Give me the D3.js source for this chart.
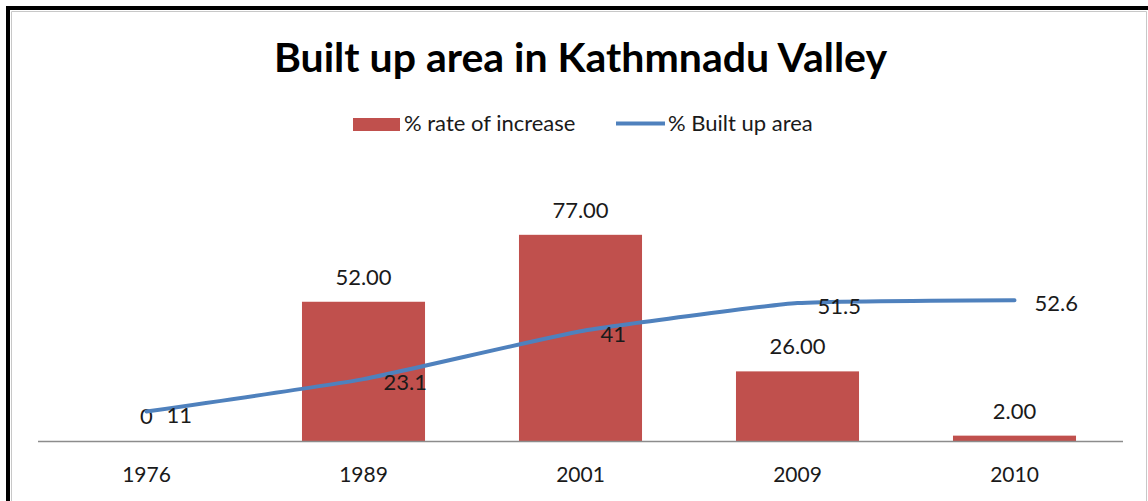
<!DOCTYPE html>
<html>
<head>
<meta charset="utf-8">
<script src="https://cdn.jsdelivr.net/npm/d3@7"></script>
<style>
  body { margin: 0; background: #fff; }
  svg { display: block; font-family: Lato, "Open Sans", sans-serif; }
</style>
</head>
<body>
<svg id="chart"></svg>
<script>
var width = 1148, height = 501;

// data
var years = ['1976', '1989', '2001', '2009', '2010'];
var rateOfIncrease = [0, 52, 77, 26, 2];
var builtUpArea = [11, 23.1, 41, 51.5, 52.6];
var rateLabels = ['0', '52.00', '77.00', '26.00', '2.00'];
var areaLabels = ['11', '23.1', '41', '51.5', '52.6'];
var seriesNames = ['% rate of increase', '% Built up area'];

var barColor = '#c0504d', lineColor = '#4f81bd', textColor = '#1a1a1a';

var svg = d3.select('#chart')
    .attr('width', width)
    .attr('height', height)
    .attr('viewBox', `0 0 ${width} ${height}`);

// frame (black outer line + thin grey inner line)
svg.append('path')
    .attr('d', `M8,${height} V8 H${width}`)
    .attr('fill', 'none')
    .attr('stroke', '#000')
    .attr('stroke-width', 4);
svg.append('path')
    .attr('d', `M11.5,${height} V11.5 H1146.5 V${height}`)
    .attr('fill', 'none')
    .attr('stroke', '#c8c8c8')
    .attr('stroke-width', 1);

var x = d3.scaleBand()
    .domain(years)
    .range([38, 1123])
    .paddingInner(0.433)
    .paddingOuter(0.2165);

var y = d3.scaleLinear()
    .domain([0, 90])
    .range([441, 200]);

// title
svg.append('text')
    .attr('x', 580.5)
    .attr('y', 72)
    .attr('text-anchor', 'middle')
    .attr('font-weight', 'bold')
    .attr('font-size', 41)
    .attr('fill', '#000')
    .text('Built up area in Kathmnadu Valley');

// legend
var legend = svg.append('g').attr('fill', textColor).attr('font-size', 22);
legend.append('rect')
    .attr('x', 353).attr('y', 118)
    .attr('width', 47).attr('height', 13)
    .attr('fill', barColor);
legend.append('text')
    .attr('x', 404).attr('y', 131)
    .text(seriesNames[0]);
legend.append('line')
    .attr('x1', 616).attr('x2', 665)
    .attr('y1', 123.5).attr('y2', 123.5)
    .attr('stroke', lineColor)
    .attr('stroke-width', 4);
legend.append('text')
    .attr('x', 668).attr('y', 131)
    .text(seriesNames[1]);

// bars
svg.append('g')
    .selectAll('rect')
    .data(rateOfIncrease)
    .join('rect')
    .attr('x', (d, i) => x(years[i]))
    .attr('y', d => y(d))
    .attr('width', x.bandwidth())
    .attr('height', d => y(0) - y(d))
    .attr('fill', barColor);

// x axis
var xAxis = svg.append('g')
    .attr('transform', `translate(0, ${y(0)})`)
    .call(d3.axisBottom(x).tickSize(0).tickPadding(0));
xAxis.select('.domain')
    .attr('d', `M${x.range()[0]},0.5H${x.range()[1]}`)
    .attr('stroke', '#8c8c8c')
    .attr('stroke-width', 1.5);
xAxis.selectAll('text')
    .attr('dy', null)
    .attr('y', 41)
    .attr('font-family', 'Lato, "Open Sans", sans-serif')
    .attr('font-size', 21)
    .attr('fill', textColor);

// bar labels
svg.append('g')
    .selectAll('text')
    .data(rateOfIncrease)
    .join('text')
    .attr('x', (d, i) => x(years[i]) + x.bandwidth() / 2)
    .attr('y', d => y(d) - 17)
    .attr('text-anchor', 'middle')
    .attr('font-size', 22)
    .attr('fill', textColor)
    .text((d, i) => rateLabels[i]);

// built up area line
var line = d3.line()
    .x((d, i) => x(years[i]) + x.bandwidth() / 2)
    .y(d => y(d))
    .curve(d3.curveCardinal.tension(0.6));

svg.append('path')
    .datum(builtUpArea)
    .attr('d', line)
    .attr('fill', 'none')
    .attr('stroke', lineColor)
    .attr('stroke-width', 4)
    .attr('stroke-linecap', 'round');

// line labels, right of each point
svg.append('g')
    .selectAll('text')
    .data(builtUpArea)
    .join('text')
    .attr('x', (d, i) => x(years[i]) + x.bandwidth() / 2 + 20)
    .attr('y', d => y(d) + 11)
    .attr('font-size', 22)
    .attr('fill', textColor)
    .text((d, i) => areaLabels[i]);
</script>
</body>
</html>
